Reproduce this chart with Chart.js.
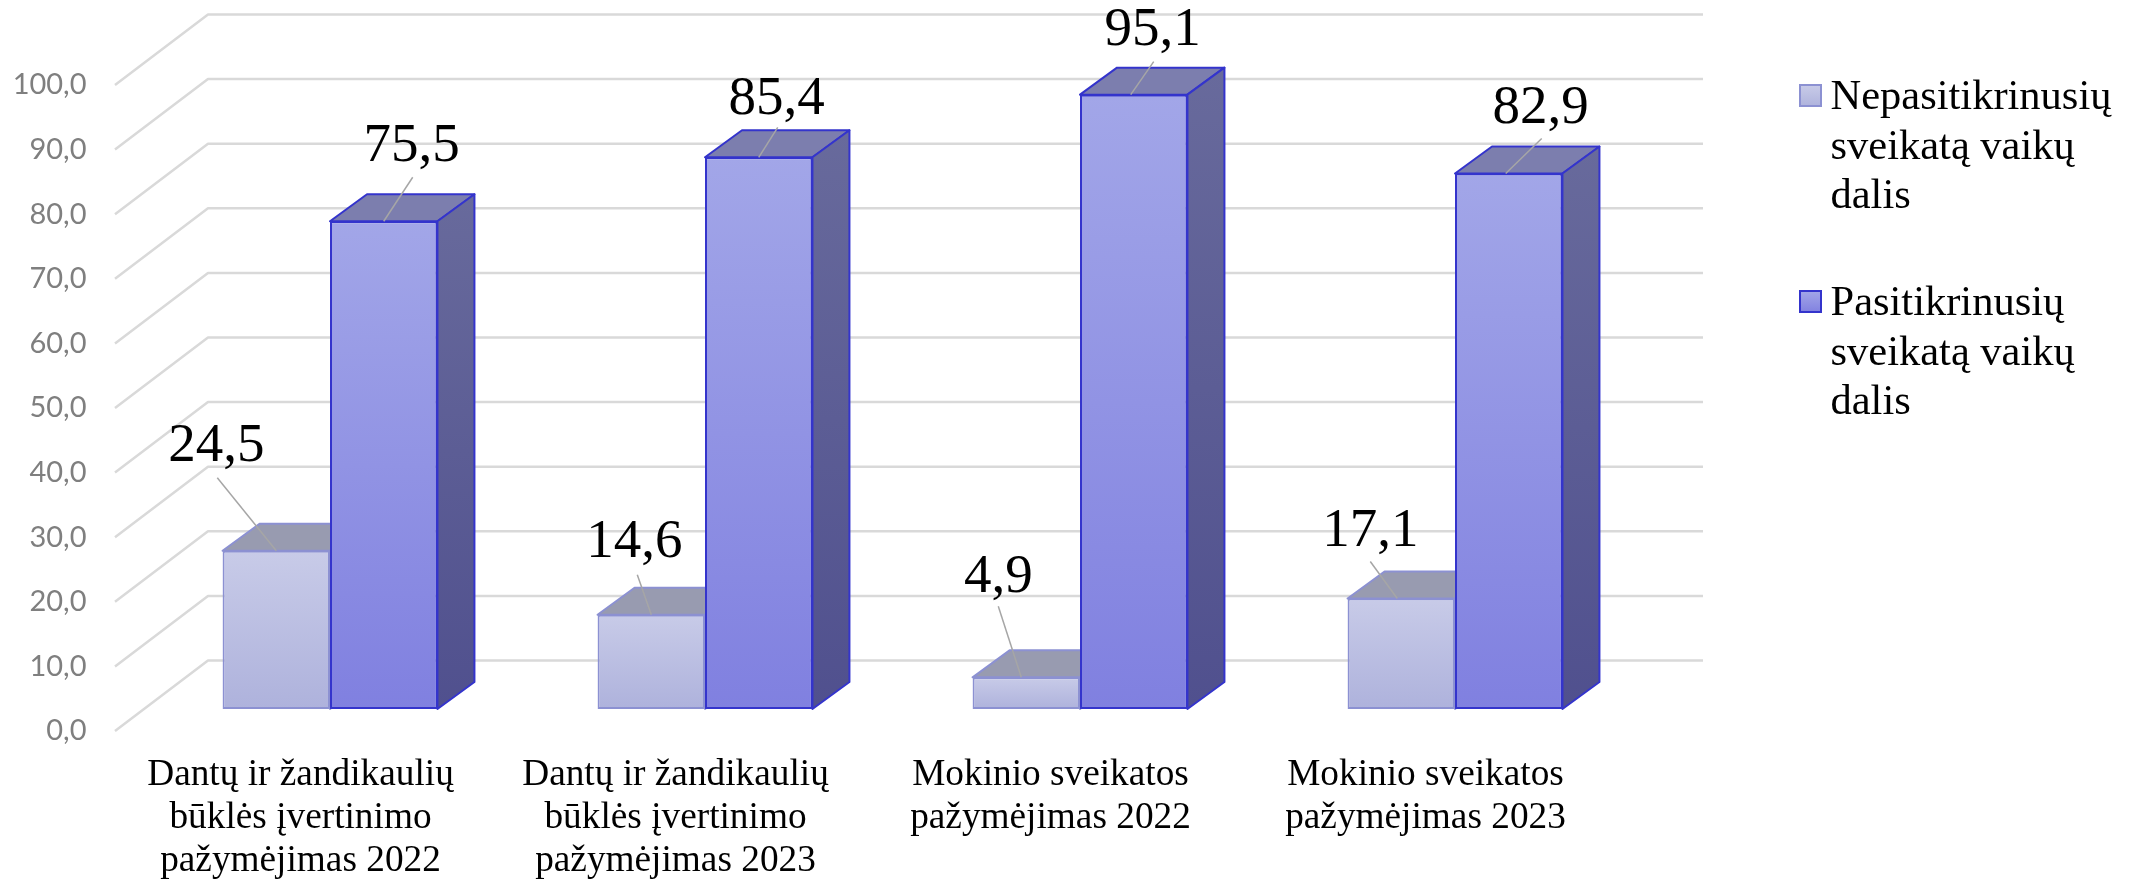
<!DOCTYPE html>
<html lang="lt"><head><meta charset="utf-8">
<style>html,body{margin:0;padding:0;background:#fff}canvas{display:block}</style>
<script src="https://cdn.jsdelivr.net/npm/chart.js@4/dist/chart.umd.min.js"></script>
</head><body><canvas id="c" width="2137" height="882"></canvas>
<script>
const categories=[["Dantų ir žandikaulių","būklės įvertinimo","pažymėjimas 2022"],["Dantų ir žandikaulių","būklės įvertinimo","pažymėjimas 2023"],["Mokinio sveikatos","pažymėjimas 2022"],["Mokinio sveikatos","pažymėjimas 2023"]];
const nepasitikrinusiu=[24.5,14.6,4.9,17.1];
const pasitikrinusiu=[75.5,85.4,95.1,82.9];
const legendLabels=[["Nepasitikrinusių","sveikatą vaikų","dalis"],["Pasitikrinusių","sveikatą vaikų","dalis"]];
const seriesNames=legendLabels.map(l=>l.join(" "));
// label centre dx,dy and leader end dx,dy, start dx, relative to top-centre of bar front
const labelOffsets=[
 [[-60,-104,-59,-73,0],[-17,-72,-14,-40,0],[-28,-100,-28,-71,-5],[-31,-67,-31,-37,-4]],
 [[28,-75,29,-44,0],[18,-58,19,-30,0],[19,-64,20,-33,-3],[32,-65,33,-35,-3]]
];
const styles=[
 {top:'#C8CBE8',bot:'#AEB2DC',border:'#8C91D2',topFace:'#989BB0',sideTop:'#8a8cb0',sideBot:'#7a7ca8'},
 {top:'#A2A6E8',bot:'#8080E0',border:'#3434CC',topFace:'#7C7EAE',sideTop:'#686A9C',sideBot:'#50508E'}
];
const DEPTH_X=37,DEPTH_Y=27,BAR_SHIFT=-22,WALL_X=93,WALL_Y=70.5,WALL_RIGHT=1703;
const SERIF='"Liberation Serif","Times New Roman",serif';
function faceGrad(ctx,i){
  const s=styles[i],y=ctx.chart.scales.y;
  if(!y||!ctx.parsed) return s.top;
  const y0=y.getPixelForValue(ctx.parsed.y),y1=y.getPixelForValue(0);
  if(!isFinite(y0)||!isFinite(y1)) return s.top;
  const g=ctx.chart.ctx.createLinearGradient(0,y0,0,y1);
  g.addColorStop(0,s.top);g.addColorStop(1,s.bot);return g;
}
const wall3d={
 id:'wall3d',
 beforeDatasetsDraw(chart){
  const c=chart.ctx,y=chart.scales.y;
  c.save();c.strokeStyle='#D9D9D9';c.lineWidth=2.5;c.lineJoin='round';
  y.ticks.forEach(t=>{
    const p=y.getPixelForValue(t.value);
    c.beginPath();c.moveTo(115,p);c.lineTo(115+WALL_X,p-WALL_Y);c.lineTo(WALL_RIGHT,p-WALL_Y);c.stroke();
  });
  c.restore();
  c.save();c.translate(0,BAR_SHIFT);
  chart.data.datasets.forEach((ds,i)=>{
   const s=styles[i];
   chart.getDatasetMeta(i).data.forEach(el=>{
    const l=el.x-el.width/2,r=el.x+el.width/2,t=el.y,b=el.base;
    c.save();c.lineWidth=2;c.strokeStyle=s.border;c.lineJoin='round';
    c.fillStyle=s.topFace;c.beginPath();c.moveTo(l,t);c.lineTo(l+DEPTH_X,t-DEPTH_Y);c.lineTo(r+DEPTH_X,t-DEPTH_Y);c.lineTo(r,t);c.closePath();c.fill();c.stroke();
    const g=c.createLinearGradient(0,t-DEPTH_Y,0,b);g.addColorStop(0,s.sideTop);g.addColorStop(1,s.sideBot);
    c.fillStyle=g;c.beginPath();c.moveTo(r,t);c.lineTo(r+DEPTH_X,t-DEPTH_Y);c.lineTo(r+DEPTH_X,b-DEPTH_Y);c.lineTo(r,b);c.closePath();c.fill();c.stroke();
    c.restore();
   });
  });
 },
 afterDatasetsDraw(chart){
  const c=chart.ctx;c.restore();
  c.save();
  chart.data.datasets.forEach((ds,i)=>{
    chart.getDatasetMeta(i).data.forEach((el,j)=>{
      const o=labelOffsets[i][j],x=el.x,y=el.y+BAR_SHIFT;
      c.strokeStyle='#A6A6A6';c.lineWidth=1.5;c.beginPath();c.moveTo(x+o[4],y);c.lineTo(x+o[2],y+o[3]);c.stroke();
      c.fillStyle='#000';c.font='55px '+SERIF;c.textAlign='center';c.textBaseline='middle';
      c.fillText(ds.data[j].toFixed(1).replace('.',','),x+o[0],y+o[1]);
    });
  });
  // legend
  const tops=[85,291];
  legendLabels.forEach((lines,i)=>{
    const s=styles[i],yy=tops[i];
    const g=c.createLinearGradient(0,yy,0,yy+22);g.addColorStop(0,s.top);g.addColorStop(1,s.bot);
    c.fillStyle=g;c.strokeStyle=s.border;c.lineWidth=2;c.fillRect(1800,yy,21,21);c.strokeRect(1800,yy,21,21);
    c.fillStyle='#000';c.font='42.5px '+SERIF;c.textAlign='left';c.textBaseline='middle';
    lines.forEach((t,k)=>c.fillText(t,1830.5,yy+13+k*49.5));
  });
  c.restore();
 }
};
new Chart(document.getElementById('c'),{
 type:'bar',
 data:{labels:categories,datasets:[
  {label:seriesNames[0],data:nepasitikrinusiu,clip:false,borderWidth:2,borderSkipped:false,borderColor:styles[0].border,backgroundColor:c=>faceGrad(c,0)},
  {label:seriesNames[1],data:pasitikrinusiu,clip:false,borderWidth:2,borderSkipped:false,borderColor:styles[1].border,backgroundColor:c=>faceGrad(c,1)}
 ]},
 plugins:[wall3d],
 options:{
  responsive:false,animation:false,
  layout:{padding:{left:0,right:494.5,top:85,bottom:0}},
  datasets:{bar:{categoryPercentage:0.573,barPercentage:1}},
  plugins:{legend:{display:false},tooltip:{enabled:false},title:{display:false}},
  scales:{
   x:{grid:{display:false,drawTicks:false},border:{display:false},
      afterFit(s){s.height=151;},
      ticks:{color:'#000',font:{family:SERIF,size:37.3,lineHeight:1.15},padding:23,labelOffset:-29.5,maxRotation:0,minRotation:0,autoSkip:false}},
   y:{min:0,max:100,grid:{display:false,drawTicks:false},border:{display:false},
      afterFit(s){s.width=142.5;},
      ticks:{stepSize:10,color:'#7F7F7F',font:{family:'Lato',size:29},padding:56,callback:v=>v.toFixed(1).replace('.',',')}}
  }
 }
});
</script></body></html>
